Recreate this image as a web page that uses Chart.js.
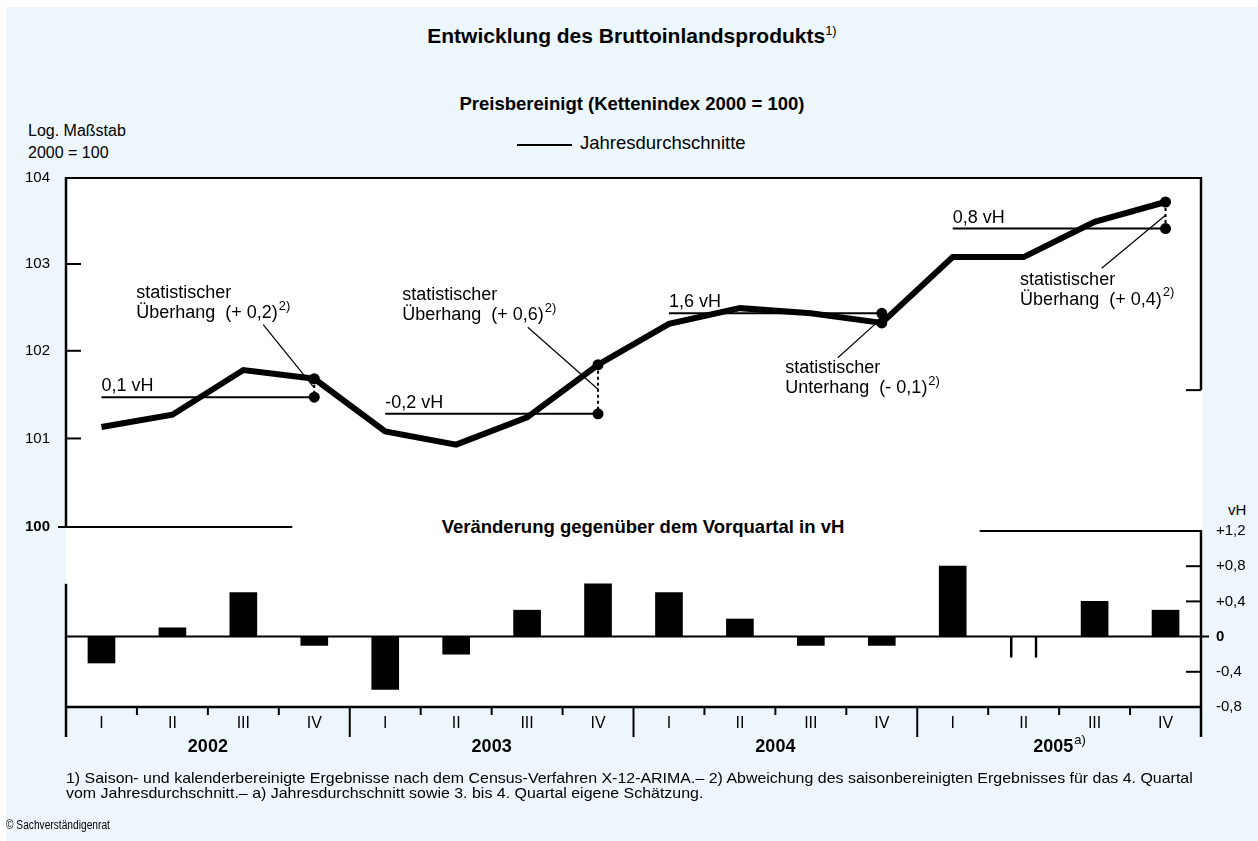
<!DOCTYPE html>
<html lang="de">
<head>
<meta charset="utf-8">
<script src="https://cdn.jsdelivr.net/npm/chart.js@4.4.1/dist/chart.umd.min.js"></script>
<style>
  html, body { margin: 0; padding: 0; background: #fff; }
  #seite { position: relative; width: 1258px; height: 841px; overflow: hidden;
           font-family: "Liberation Sans", Arial, sans-serif; color: #000; }
  #hg { position: absolute; left: 6px; top: 7px; width: 1252px; height: 834px; background: #edf6fa; }
  #plotflaeche { position: absolute; left: 66px; top: 178px; width: 1137px; height: 529px; background: #fff; }
  canvas { position: absolute; left: 0; top: 0; }
  .t { position: absolute; white-space: nowrap; line-height: 1; }
  .fett { font-weight: bold; }
  .hoch { font-size: 13px; font-weight: normal; position: relative; top: -8px; }
</style>
</head>
<body>
<div id="seite">
  <div id="hg"></div>
  <div id="plotflaeche"></div>

  <div class="t fett" style="left:6px; width:1252px; text-align:center; top:25px; font-size:21px;">Entwicklung des Bruttoinlandsprodukts<span class="hoch">1)</span></div>
  <div class="t fett" style="left:6px; width:1252px; text-align:center; top:95px; font-size:18.5px;">Preisbereinigt (Kettenindex 2000 = 100)</div>
  <div style="position:absolute; left:517px; top:144px; width:55px; height:2px; background:#000;"></div>
  <div class="t" style="left:580px; top:134px; font-size:18.5px;">Jahresdurchschnitte</div>
  <div class="t" style="left:28px; top:123px; font-size:16px;">Log. Maßstab</div>
  <div class="t" style="left:28px; top:145px; font-size:16px;">2000 = 100</div>
  <div class="t fett" style="left:0; width:1286px; text-align:center; top:518px; font-size:18.5px;">Veränderung gegenüber dem Vorquartal in vH</div>
  <div class="t" style="left:1228px; top:502px; font-size:15px;">vH</div>

  <canvas id="oben" width="1258" height="841"></canvas>
  <canvas id="unten" width="1258" height="841"></canvas>

  <div class="t fuss" style="left:66px; top:770px; font-size:15px;">1) Saison- und kalenderbereinigte Ergebnisse nach dem Census-Verfahren X-12-ARIMA.– 2) Abweichung des saisonbereinigten Ergebnisses für das 4. Quartal</div>
  <div class="t fuss" style="left:66px; top:785px; font-size:15px;">vom Jahresdurchschnitt.– a) Jahresdurchschnitt sowie 3. bis 4. Quartal eigene Schätzung.</div>
  <div class="t" style="left:6px; top:819px; font-size:12px; transform:scaleX(0.85); transform-origin:left;">© Sachverständigenrat</div>
</div>

<script>
// Daten
const jahre = ['2002', '2003', '2004', '2005'];
const quartale = ['I', 'II', 'III', 'IV'];
const bipIndex = [101.13, 101.27, 101.78, 101.68, 101.08, 100.93, 101.24, 101.84,
                  102.31, 102.49, 102.43, 102.32, 103.08, 103.08, 103.49, 103.72];
const jahresdurchschnitt = [101.47, 101.28, 102.43, 103.41];
const wachstumLabels = ['0,1 vH', '-0,2 vH', '1,6 vH', '0,8 vH'];
const veraenderung = [-0.3, 0.1, 0.5, -0.1, -0.6, -0.2, 0.3, 0.6,
                      0.5, 0.2, -0.1, -0.1, 0.8, 0, 0.4, 0.3];
const nullMarke = [null, null, null, null, null, null, null, null,
                   null, null, null, null, null, -0.24, null, null];
const indexTicks = [100, 101, 102, 103, 104];
const vhTicks = [-0.8, -0.4, 0, 0.4, 0.8, 1.2];
const vhTickLabels = ['-0,8', '-0,4', '0', '+0,4', '+0,8', '+1,2'];
const hangTexte = ['Überhang  (+ 0,2)', 'Überhang  (+ 0,6)', 'Unterhang  (- 0,1)', 'Überhang  (+ 0,4)'];

// Lage der Beschriftungen (Quartalsindex / Indexwert)
const hangText = [{q: 0.49, v: 102.66}, {q: 4.24, v: 102.64}, {q: 9.64, v: 101.80}, {q: 12.95, v: 102.82}];
const hangLinie = [{q: 2.28, v: 102.30}, {q: 6.01, v: 102.27}, {q: 10.38, v: 101.92}, {q: 14.10, v: 102.95}];

const schrift = '"Liberation Sans", Arial, sans-serif';
Chart.defaults.font.family = schrift;
Chart.defaults.color = '#000';

const xLabels = jahre.flatMap(() => quartale);

const linie = (ctx, x1, y1, x2, y2) => {
  ctx.beginPath();
  ctx.moveTo(x1, y1);
  ctx.lineTo(x2, y2);
  ctx.stroke();
};

const obenRahmen = {
  id: 'obenRahmen',
  beforeDatasetsDraw(chart) {
    const {ctx, chartArea: a, scales: {x, y}} = chart;
    ctx.save();
    ctx.strokeStyle = '#000';
    ctx.lineWidth = 2;
    linie(ctx, a.left, y.getPixelForValue(104), a.right + 1, y.getPixelForValue(104));
    ctx.lineWidth = 2.5;
    linie(ctx, a.left, y.getPixelForValue(104) - 1, a.left, y.getPixelForValue(100));
    ctx.lineWidth = 2;
    [101, 102, 103].forEach(v => linie(ctx, a.left, y.getPixelForValue(v), a.left + 15, y.getPixelForValue(v)));
    linie(ctx, a.left - 8, y.getPixelForValue(100), x.getPixelForValue(2.69), y.getPixelForValue(100));
    ctx.lineWidth = 2.5;
    linie(ctx, a.right, y.getPixelForValue(104) - 1, a.right, y.getPixelForValue(101.55));
    ctx.lineWidth = 2;
    linie(ctx, a.right - 15, y.getPixelForValue(101.55), a.right, y.getPixelForValue(101.55));
    // gestrichelte Verbindung zwischen Q4-Wert und Jahresdurchschnitt
    ctx.setLineDash([3, 3]);
    jahresdurchschnitt.forEach((d, j) => {
      const px = x.getPixelForValue(j * 4 + 3);
      linie(ctx, px, y.getPixelForValue(bipIndex[j * 4 + 3]), px, y.getPixelForValue(d));
    });
    ctx.restore();
  },
  afterDatasetsDraw(chart) {
    const {ctx, scales: {x, y}} = chart;
    ctx.save();
    ctx.fillStyle = '#000';
    ctx.strokeStyle = '#000';
    ctx.font = '18px ' + schrift;
    ctx.textBaseline = 'alphabetic';
    ctx.textAlign = 'left';
    jahresdurchschnitt.forEach((d, j) => {
      ctx.fillText(wachstumLabels[j], x.getPixelForValue(j * 4), y.getPixelForValue(d) - 6);
    });
    ctx.textBaseline = 'middle';
    hangTexte.forEach((t, j) => {
      const tx = x.getPixelForValue(hangText[j].q);
      const ty = y.getPixelForValue(hangText[j].v);
      ctx.font = '18px ' + schrift;
      ctx.fillText('statistischer', tx, ty);
      ctx.fillText(t, tx, ty + 20);
      const w = ctx.measureText(t).width;
      ctx.font = '13px ' + schrift;
      ctx.fillText('2)', tx + w + 1, ty + 13);
      // Hinweislinie
      const q4 = j * 4 + 3;
      const ym = (y.getPixelForValue(bipIndex[q4]) + y.getPixelForValue(jahresdurchschnitt[j])) / 2;
      ctx.lineWidth = 1.2;
      linie(ctx, x.getPixelForValue(hangLinie[j].q), y.getPixelForValue(hangLinie[j].v), x.getPixelForValue(q4), ym);
    });
    ctx.restore();
  }
};

const obenChart = new Chart(document.getElementById('oben'), {
  type: 'line',
  data: {
    labels: xLabels,
    datasets: [
      {
        label: 'Bruttoinlandsprodukt',
        data: bipIndex,
        borderColor: '#000',
        borderWidth: 6,
        borderJoinStyle: 'miter',
        tension: 0,
        pointRadius: c => (c.dataIndex % 4 === 3 ? 5.5 : 0),
        pointBackgroundColor: '#000',
        pointBorderWidth: 0
      },
      ...jahresdurchschnitt.map((d, j) => ({
        label: 'Jahresdurchschnitte',
        data: xLabels.map((_, i) => (Math.floor(i / 4) === j ? d : null)),
        borderColor: '#000',
        borderWidth: 2,
        spanGaps: false,
        pointRadius: c => (c.dataIndex === j * 4 + 3 ? 5.5 : 0),
        pointBackgroundColor: '#000',
        pointBorderWidth: 0
      }))
    ]
  },
  options: {
    responsive: false,
    animation: false,
    devicePixelRatio: 1,
    layout: { padding: { top: 178, bottom: 314, left: 0, right: 57 } },
    plugins: { legend: { display: false }, tooltip: { enabled: false } },
    scales: {
      x: { type: 'category', offset: true, display: false },
      y: {
        type: 'logarithmic',
        position: 'left',
        min: 100,
        max: 104,
        afterBuildTicks: s => { s.ticks = indexTicks.map(v => ({ value: v })); },
        afterFit: s => { s.width = 66; },
        grid: { display: false, drawTicks: false },
        border: { display: false },
        ticks: {
          padding: 16,
          color: '#000',
          font: c => ({ size: 15, weight: c.tick && c.tick.value === 100 ? 'bold' : 'normal' }),
          callback: v => String(v)
        }
      }
    }
  },
  plugins: [obenRahmen]
});

const untenRahmen = {
  id: 'untenRahmen',
  afterDatasetsDraw(chart) {
    const {ctx, chartArea: a, scales: {x, y}} = chart;
    const basis = y.getPixelForValue(-0.8);
    ctx.save();
    ctx.strokeStyle = '#000';
    ctx.lineWidth = 2;
    linie(ctx, a.left, y.getPixelForValue(0), a.right + 8, y.getPixelForValue(0));
    linie(ctx, x.getPixelForValue(12.38), y.getPixelForValue(1.2), a.right, y.getPixelForValue(1.2));
    [0.8, 0.4, -0.4].forEach(v => linie(ctx, a.right - 15, y.getPixelForValue(v), a.right, y.getPixelForValue(v)));
    ctx.lineWidth = 2.5;
    linie(ctx, a.left, basis, a.right, basis);
    linie(ctx, a.left, y.getPixelForValue(0.6), a.left, basis + 30);
    linie(ctx, a.right, y.getPixelForValue(1.2) - 1, a.right, basis + 30);
    ctx.lineWidth = 2;
    for (let i = 1; i < xLabels.length; i++) {
      const px = (x.getPixelForValue(i - 1) + x.getPixelForValue(i)) / 2;
      linie(ctx, px, basis, px, basis + (i % 4 === 0 ? 30 : 8));
    }
    // Jahreszahlen
    ctx.fillStyle = '#000';
    ctx.textBaseline = 'middle';
    jahre.forEach((j, k) => {
      const cx = x.getPixelForValue(k * 4 + 1.5);
      ctx.font = 'bold 18px ' + schrift;
      const w = ctx.measureText(j).width;
      const hoch = k === 3 ? 'a)' : '';
      ctx.font = '13px ' + schrift;
      const wh = hoch ? ctx.measureText(hoch).width : 0;
      ctx.font = 'bold 18px ' + schrift;
      ctx.textAlign = 'left';
      ctx.fillText(j, cx - (w + wh) / 2, basis + 40);
      if (hoch) {
        ctx.font = '13px ' + schrift;
        ctx.fillText(hoch, cx - (w + wh) / 2 + w + 1, basis + 33);
      }
    });
    ctx.restore();
  }
};

const untenChart = new Chart(document.getElementById('unten'), {
  type: 'bar',
  data: {
    labels: xLabels,
    datasets: [
      {
        label: 'Veränderung gegenüber dem Vorquartal in vH',
        data: veraenderung,
        backgroundColor: '#000',
        borderWidth: 0,
        barThickness: 27,
        grouped: false
      },
      {
        label: 'Marke',
        data: nullMarke,
        backgroundColor: 'rgba(0,0,0,0)',
        borderColor: '#000',
        borderWidth: { left: 2, right: 2, top: 0, bottom: 0 },
        borderSkipped: false,
        barThickness: 27,
        grouped: false
      }
    ]
  },
  options: {
    responsive: false,
    animation: false,
    devicePixelRatio: 1,
    layout: { padding: { top: 531, bottom: 94, left: 66, right: 0 } },
    plugins: { legend: { display: false }, tooltip: { enabled: false } },
    scales: {
      x: {
        type: 'category',
        offset: true,
        afterFit: s => { s.height = 40; },
        grid: { display: false, drawTicks: false },
        border: { display: false },
        ticks: { padding: 7, color: '#000', font: { size: 16 }, autoSkip: false, maxRotation: 0 }
      },
      y: {
        type: 'linear',
        position: 'right',
        min: -0.8,
        max: 1.2,
        afterBuildTicks: s => { s.ticks = vhTicks.map(v => ({ value: v })); },
        afterFit: s => { s.width = 57; },
        grid: { display: false, drawTicks: false },
        border: { display: false },
        ticks: {
          padding: 15,
          color: '#000',
          font: c => ({ size: 15, weight: c.tick && c.tick.value === 0 ? 'bold' : 'normal' }),
          callback: (v, i) => vhTickLabels[i]
        }
      }
    }
  },
  plugins: [untenRahmen]
});

// Fußnoten auf die Breite der Vorlage bringen
const fuss = document.querySelectorAll('.fuss');
const faktor = 1127 / fuss[0].offsetWidth;
fuss.forEach(f => { f.style.transformOrigin = 'left'; f.style.transform = 'scaleX(' + faktor + ')'; });
</script>
</body>
</html>
